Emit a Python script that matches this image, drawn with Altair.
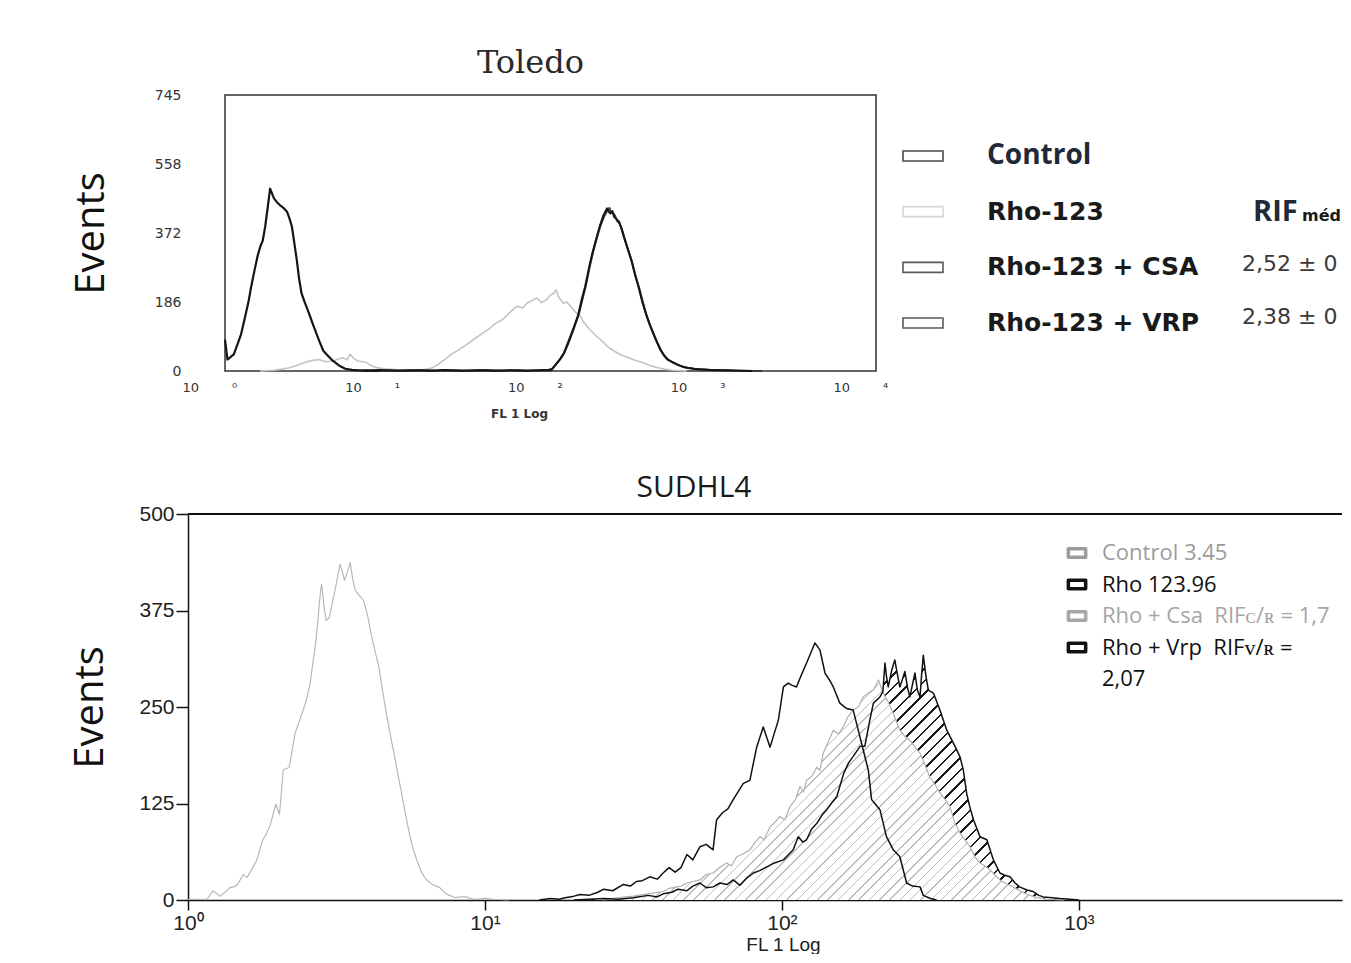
import altair as alt
import pandas as pd

NB = "\u00a0"

# ---------------- Toledo (top panel) : x = log10(FL1), y = events ----------------
tol_title = "Toledo"
tol_y_ticks = [0, 186, 372, 558, 745]
tol_x_ticks = [0, 1, 2, 3, 4]

tol_control = [(0.0, 85), (0.015, 31), (0.035, 38), (0.054, 45), (0.075, 70), (0.098, 98), (0.12, 140),
               (0.143, 184), (0.162, 230), (0.182, 273), (0.2, 310), (0.217, 336), (0.232, 352), (0.247, 390),
               (0.262, 440), (0.277, 492), (0.29, 478), (0.301, 466), (0.32, 455), (0.337, 448), (0.36, 440),
               (0.381, 430), (0.396, 412), (0.411, 390), (0.426, 345), (0.441, 300), (0.455, 250), (0.47, 210),
               (0.49, 185), (0.515, 157), (0.537, 130), (0.56, 103), (0.582, 78), (0.605, 54), (0.635, 40),
               (0.664, 27), (0.7, 15), (0.739, 6), (0.78, 3), (0.813, 2), (0.87, 1), (0.95, 0)]

tol_rho = [(0.217, 0), (0.3, 2), (0.35, 5), (0.396, 9), (0.44, 15), (0.485, 22), (0.53, 28), (0.575, 31),
           (0.62, 25), (0.664, 27), (0.7, 33), (0.724, 36), (0.75, 30), (0.768, 45), (0.79, 35), (0.813, 27),
           (0.85, 25), (0.873, 22), (0.9, 14), (0.932, 9), (0.98, 6), (1.051, 4), (1.12, 3), (1.2, 2),
           (1.24, 5), (1.275, 9), (1.31, 18), (1.349, 31), (1.39, 45), (1.438, 58), (1.48, 70), (1.528, 85),
           (1.57, 98), (1.617, 112), (1.66, 128), (1.706, 139), (1.75, 158), (1.796, 175), (1.83, 170),
           (1.855, 183), (1.885, 190), (1.915, 197), (1.945, 185), (1.974, 192), (2.0, 205), (2.02, 210),
           (2.034, 219), (2.05, 200), (2.079, 183), (2.1, 186), (2.123, 175), (2.15, 160), (2.183, 148),
           (2.21, 128), (2.242, 112), (2.28, 95), (2.317, 81), (2.35, 66), (2.391, 54), (2.43, 44),
           (2.481, 36), (2.52, 29), (2.57, 22), (2.61, 15), (2.659, 9), (2.7, 5), (2.749, 2), (2.8, 1),
           (2.838, 0)]

tol_csa = [(0.85, 1), (0.95, 3), (1.05, 1), (1.15, 2), (1.25, 1), (1.35, 3), (1.45, 1), (1.55, 2), (1.65, 1),
           (1.75, 2), (1.85, 1), (1.945, 3), (2.004, 2), (2.034, 18), (2.056, 30), (2.079, 45), (2.1, 68),
           (2.123, 94), (2.145, 120), (2.168, 148), (2.19, 190), (2.213, 228), (2.235, 275), (2.257, 318),
           (2.28, 355), (2.302, 390), (2.325, 420), (2.347, 439), (2.358, 430), (2.368, 425), (2.38, 432),
           (2.391, 416), (2.405, 410), (2.421, 403), (2.436, 385), (2.451, 362), (2.474, 330), (2.496, 300),
           (2.518, 262), (2.54, 228), (2.562, 190), (2.585, 157), (2.607, 128), (2.63, 103), (2.652, 80),
           (2.674, 58), (2.697, 42), (2.719, 31), (2.75, 24), (2.778, 18), (2.81, 12), (2.838, 9), (2.88, 6),
           (2.927, 4), (2.97, 3), (3.017, 2), (3.1, 2), (3.24, 0)]

tol_vrp = [(0.8, 2), (0.9, 1), (1.0, 2), (1.1, 1), (1.2, 3), (1.3, 1), (1.4, 2), (1.5, 1), (1.6, 3), (1.7, 1),
           (1.8, 2), (1.9, 1), (1.98, 2), (2.01, 6), (2.04, 22), (2.062, 34), (2.085, 50), (2.107, 72),
           (2.13, 98), (2.152, 126), (2.175, 155), (2.197, 195), (2.218, 232), (2.24, 280), (2.262, 322),
           (2.285, 360), (2.307, 392), (2.33, 418), (2.35, 434), (2.362, 440), (2.372, 428), (2.384, 426),
           (2.395, 420), (2.41, 405), (2.425, 398), (2.44, 380), (2.455, 358), (2.478, 326), (2.5, 296),
           (2.522, 258), (2.545, 224), (2.567, 186), (2.59, 150), (2.612, 124), (2.635, 98), (2.657, 76),
           (2.68, 55), (2.702, 40), (2.725, 30), (2.755, 22), (2.785, 16), (2.815, 11), (2.85, 8), (2.9, 5),
           (2.94, 5), (2.99, 3), (3.03, 3), (3.12, 1), (3.3, 0)]

tol_legend_names = ["Control", "Rho-123", "Rho-123 + CSA", "Rho-123 + VRP"]
tol_legend_box = ["#4a4a4a", "#d6d6d6", "#5a5a5a", "#5a5a5a"]
tol_rif_values = ["", "", "2,52 ± 0", "2,38 ± 0"]
tol_rif_shift = [0, 0, -3, -6]
tol_rif_head = "RIF"
tol_rif_sub = "méd"

# ---------------- SUDHL4 (bottom panel) ----------------
sud_title = "SUDHL4"
sud_y_ticks = [0, 125, 250, 375, 500]
sud_x_ticks = [0, 1, 2, 3]

sud_control = [(0.0, 1), (0.064, 1), (0.084, 12), (0.097, 8), (0.109, 5), (0.125, 10), (0.141, 16), (0.155, 17),
               (0.167, 20), (0.186, 33), (0.199, 29), (0.215, 40), (0.231, 51), (0.251, 77), (0.263, 85),
               (0.276, 96), (0.296, 124), (0.308, 111), (0.321, 169), (0.331, 170), (0.341, 172), (0.36, 215),
               (0.379, 236), (0.398, 258), (0.411, 280), (0.418, 300), (0.431, 336), (0.445, 395), (0.45, 409),
               (0.458, 380), (0.465, 362), (0.476, 366), (0.486, 385), (0.495, 401), (0.512, 435), (0.52, 425),
               (0.527, 414), (0.537, 425), (0.546, 437), (0.555, 415), (0.563, 401), (0.578, 394), (0.591, 388),
               (0.604, 370), (0.617, 344), (0.63, 322), (0.643, 301), (0.655, 272), (0.668, 241), (0.681, 215),
               (0.694, 189), (0.707, 162), (0.72, 137), (0.733, 110), (0.746, 85), (0.758, 66), (0.771, 51),
               (0.784, 38), (0.797, 29), (0.81, 24), (0.823, 20), (0.836, 18), (0.848, 16), (0.861, 11),
               (0.874, 7), (0.887, 5), (0.9, 3), (0.92, 4), (0.938, 4), (0.95, 2), (0.964, 1), (1.0, 2),
               (1.03, 1), (1.08, 0)]

sud_rho = [(1.183, 0), (1.22, 2), (1.25, 1), (1.27, 3), (1.3, 5), (1.32, 7), (1.35, 6), (1.38, 10), (1.4, 14),
           (1.43, 12), (1.465, 20), (1.49, 18), (1.51, 24), (1.53, 25), (1.555, 30), (1.58, 27), (1.6, 35),
           (1.62, 42), (1.64, 36), (1.66, 42), (1.68, 59), (1.7, 52), (1.724, 69), (1.745, 72), (1.768, 65),
           (1.78, 104), (1.8, 113), (1.818, 118), (1.836, 130), (1.87, 151), (1.892, 155), (1.915, 198),
           (1.937, 224), (1.96, 198), (1.988, 233), (2.005, 276), (2.021, 281), (2.035, 278), (2.049, 276),
           (2.066, 292), (2.083, 307), (2.097, 320), (2.111, 333), (2.128, 324), (2.145, 294), (2.16, 285),
           (2.173, 276), (2.195, 255), (2.218, 248), (2.24, 246), (2.257, 220), (2.274, 194), (2.291, 168),
           (2.302, 130), (2.315, 124), (2.33, 117), (2.352, 82), (2.375, 65), (2.397, 56), (2.42, 22),
           (2.44, 18), (2.465, 17), (2.476, 6), (2.5, 2), (2.521, 0)]

sud_csa = [(1.4, 0), (1.45, 3), (1.5, 5), (1.55, 8), (1.6, 11), (1.62, 15), (1.66, 18), (1.68, 22), (1.7, 24),
           (1.724, 26), (1.745, 33), (1.769, 35), (1.79, 42), (1.814, 48), (1.83, 44), (1.848, 56), (1.87, 60),
           (1.892, 65), (1.91, 75), (1.926, 82), (1.94, 78), (1.96, 95), (1.975, 100), (1.993, 108),
           (2.01, 104), (2.027, 121), (2.045, 130), (2.061, 147), (2.072, 140), (2.083, 155), (2.1, 160),
           (2.117, 172), (2.128, 168), (2.139, 190), (2.156, 205), (2.173, 220), (2.19, 215), (2.206, 224),
           (2.223, 238), (2.24, 246), (2.257, 250), (2.274, 263), (2.29, 268), (2.308, 272), (2.325, 285),
           (2.341, 268), (2.36, 255), (2.375, 242), (2.397, 220), (2.414, 212), (2.431, 207), (2.448, 198),
           (2.465, 190), (2.482, 175), (2.498, 159), (2.515, 150), (2.532, 139), (2.55, 130), (2.566, 121),
           (2.582, 100), (2.599, 87), (2.616, 78), (2.633, 69), (2.65, 56), (2.667, 48), (2.684, 44),
           (2.701, 39), (2.718, 32), (2.734, 26), (2.755, 21), (2.779, 17), (2.805, 11), (2.835, 6),
           (2.86, 3), (2.891, 1), (2.95, 0)]

sud_vrp = [(1.3, 0), (1.35, 1), (1.4, 2), (1.45, 1), (1.5, 3), (1.55, 6), (1.58, 4), (1.6, 8), (1.63, 10),
           (1.65, 14), (1.68, 12), (1.7, 18), (1.724, 22), (1.745, 16), (1.769, 17), (1.791, 22), (1.815, 20),
           (1.836, 26), (1.859, 19), (1.88, 28), (1.904, 35), (1.925, 38), (1.949, 43), (1.975, 48),
           (2.005, 52), (2.02, 58), (2.038, 65), (2.055, 82), (2.07, 75), (2.083, 78), (2.1, 92), (2.117, 99),
           (2.135, 110), (2.151, 117), (2.168, 126), (2.185, 134), (2.208, 164), (2.225, 178), (2.24, 186),
           (2.263, 199), (2.279, 199), (2.296, 233), (2.308, 255), (2.33, 263), (2.34, 270), (2.347, 307),
           (2.352, 290), (2.358, 276), (2.37, 298), (2.38, 311), (2.39, 290), (2.397, 276), (2.405, 285),
           (2.414, 296), (2.423, 275), (2.431, 263), (2.44, 280), (2.448, 294), (2.456, 272), (2.465, 263),
           (2.47, 290), (2.476, 317), (2.485, 290), (2.493, 272), (2.51, 268), (2.532, 246), (2.555, 220),
           (2.583, 199), (2.6, 185), (2.611, 168), (2.622, 138), (2.633, 120), (2.645, 104), (2.667, 82),
           (2.69, 78), (2.712, 52), (2.734, 35), (2.75, 32), (2.768, 30), (2.785, 22), (2.8, 17),
           (2.825, 13), (2.846, 11), (2.865, 6), (2.88, 4), (2.91, 3), (2.936, 2), (2.97, 1), (3.0, 0)]

sud_legend_text = ["Control 3.45", "Rho 123.96", f"Rho + Csa{NB}{NB}RIFᴄ/ʀ = 1,7",
                   f"Rho + Vrp{NB}{NB}RIFᴠ/ʀ =", "2,07"]
sud_legend_color = ["#9c9c9c", "#111111", "#a6a6a6", "#111111", "#111111"]
sud_legend_symbol = [True, True, True, True, False]


def df_of(pairs):
    return pd.DataFrame(pairs, columns=["x", "y"])


SUP = ("datum.value == 0 ? '⁰' : datum.value == 1 ? '¹' : datum.value == 2 ? '²' : "
       "datum.value == 3 ? '³' : '⁴'")

# ---------------- top chart ----------------
tol_x_axis = alt.Axis(values=tol_x_ticks, labelExpr=f"'10{NB * 8}' + ({SUP})",
                      labelAlign="left", labelOffset=-43, labelFont="DejaVu Sans", labelFontSize=13,
                      labelColor="#333", ticks=False, domain=False, grid=False, labelPadding=10,
                      labelFlush=False, labelOverlap=False, title="FL 1 Log", titleFont="DejaVu Sans",
                      titleFontSize=12, titleFontWeight="bold", titleColor="#333", titlePadding=14,
                      titleX=294)
tol_y_axis = alt.Axis(values=tol_y_ticks, labelFont="DejaVu Sans", labelFontSize=14, labelColor="#333",
                      labelPadding=44, ticks=False, domain=False, grid=False, labelOverlap=False,
                      title="Events", titleFont="Open Sans", titleFontSize=40, titleFontWeight="normal",
                      titleColor="#111", titlePadding=43)
tx = alt.X("x:Q", scale=alt.Scale(domain=[0, 4], nice=False, zero=False), axis=tol_x_axis)
ty = alt.Y("y:Q", scale=alt.Scale(domain=[0, 745], nice=False), axis=tol_y_axis)


def tline(pairs, color, w):
    return alt.Chart(df_of(pairs)).mark_line(color=color, strokeWidth=w, strokeJoin="round").encode(x=tx, y=ty)


top_plot = alt.layer(
    tline(tol_rho, "#c4c4c4", 1.6),
    tline(tol_vrp, "#3a3a3a", 2.0),
    tline(tol_csa, "#151515", 2.0),
    tline(tol_control, "#151515", 2.2),
).properties(
    width=651, height=276,
    title=alt.TitleParams(tol_title, font="DejaVu Serif", fontSize=32, fontWeight="normal",
                          color="#2a2a2a", anchor="middle", offset=8, dx=-20),
    view=alt.ViewBackground(stroke="#333333", strokeWidth=1.5),
)

tleg_df = pd.DataFrame({"name": tol_legend_names, "box": tol_legend_box, "rif": tol_rif_values,
                        "shift": tol_rif_shift, "row": list(range(len(tol_legend_names)))})
ly = alt.Y("row:O", scale=alt.Scale(type="point", range=[61, 228], padding=0), axis=None)
leg_boxes = alt.Chart(tleg_df).mark_point(
    shape="M-1,-0.25L1,-0.25L1,0.25L-1,0.25Z", size=1600, filled=False, strokeWidth=1.6, opacity=1
).encode(x=alt.value(30), y=ly, color=alt.Color("box:N", scale=None))
leg_ctrl = alt.Chart(tleg_df).transform_filter("datum.row == 0").mark_text(
    align="left", baseline="middle", font="Open Sans", fontSize=28, fontWeight="bold", color="#1f2a36", clip=True
).encode(x=alt.value(94), y=ly, text="name:N")
leg_names = alt.Chart(tleg_df).transform_filter("datum.row > 0").mark_text(
    align="left", baseline="middle", font="DejaVu Sans", fontSize=25, fontWeight="bold", color="#1a1a1a", clip=True
).encode(x=alt.value(94), y=ly, text="name:N")
leg_rif = alt.Chart(tleg_df).transform_filter("datum.rif != ''").mark_text(
    align="left", baseline="middle", font="DejaVu Sans", fontSize=22, color="#3a3a3a", clip=True
).encode(x=alt.value(349), y=ly, yOffset=alt.YOffset("shift:Q", scale=None), text="rif:N")
head_df = pd.DataFrame({"row": [1], "head": [tol_rif_head], "sub": [tol_rif_sub]})
leg_head = alt.Chart(head_df).mark_text(
    align="left", baseline="middle", font="Open Sans", fontSize=29, fontWeight="bold", color="#1f2a36", clip=True
).encode(x=alt.value(360), y=ly, text="head:N")
leg_sub = alt.Chart(head_df).mark_text(
    align="left", baseline="middle", font="DejaVu Sans", fontSize=16, fontWeight="bold", color="#1a1a1a",
    dy=4, clip=True
).encode(x=alt.value(409), y=ly, text="sub:N")

legend_panel = alt.layer(leg_boxes, leg_ctrl, leg_names, leg_rif, leg_head, leg_sub).properties(
    width=449, height=276, view=alt.ViewBackground(stroke=None))

# empty spacer that shifts the Toledo frame right of the SUDHL4 frame
spacer = alt.Chart(pd.DataFrame({"s": [0]})).mark_point(opacity=0).encode(
    x=alt.value(0), y=alt.value(0)).properties(width=20, height=276, view=alt.ViewBackground(stroke=None))

top_row = alt.hconcat(spacer, top_plot, legend_panel, spacing=17, bounds="flush")

# ---------------- bottom chart ----------------
sud_x_axis = alt.Axis(values=sud_x_ticks, labelExpr=f"'10' + ({SUP})", labelFont="Liberation Sans",
                      labelFontSize=21, labelColor="#222", tickSize=10, tickColor="#111", tickWidth=1.5,
                      domainColor="#111", domainWidth=1.5, grid=False, labelPadding=2, labelFlush=False,
                      labelOverlap=False, title="FL 1 Log", titleFont="Liberation Sans", titleFontSize=19,
                      titleFontWeight="normal", titleColor="#222", titlePadding=2, titleX=595)
sud_y_axis = alt.Axis(values=sud_y_ticks, labelFont="Liberation Sans", labelFontSize=21, labelColor="#222",
                      tickSize=12, tickColor="#111", tickWidth=1.5, domainColor="#111", domainWidth=1.5,
                      grid=False, labelPadding=2, labelOverlap=False, title="Events", titleFont="Open Sans",
                      titleFontSize=40, titleFontWeight="normal", titleColor="#111", titlePadding=28)
bx = alt.X("x:Q", scale=alt.Scale(domain=[0, 3.886], nice=False, zero=False), axis=sud_x_axis)
by = alt.Y("y:Q", scale=alt.Scale(domain=[0, 500], nice=False), axis=sud_y_axis)


def hatch(n, frac, line_color, bg_color, aspect):
    """Diagonal '/' hatch fill as a striped linear gradient over the mark's bounding box."""
    stops = []
    for i in range(n):
        a = i / n
        b = (i + frac) / n
        e = (i + 1) / n
        stops += [alt.GradientStop(offset=round(a, 5), color=line_color),
                  alt.GradientStop(offset=round(b, 5), color=line_color),
                  alt.GradientStop(offset=round(b, 5), color=bg_color),
                  alt.GradientStop(offset=round(e, 5), color=bg_color)]
    s = (1 + aspect) / (1 + aspect * aspect)
    return alt.Gradient(gradient="linear", stops=stops, x1=0, y1=0, x2=round(s, 4), y2=round(s * aspect, 4))


def bline(pairs, color, w):
    return alt.Chart(df_of(pairs)).mark_line(color=color, strokeWidth=w, strokeJoin="round").encode(x=bx, y=by)


def barea(pairs, fill):
    return alt.Chart(df_of(pairs)).mark_area(color=fill, opacity=1).encode(x=bx, y=by)


curves = alt.layer(
    barea(sud_vrp, hatch(60, 0.2, "#1a1a1a", "#ffffff", 245 / 505)),
    barea(sud_csa, hatch(66, 0.15, "#bdbdbd", "#ffffff", 220 / 460)),
    bline(sud_control, "#b8b8b8", 1.2),
    bline(sud_csa, "#b0b0b0", 1.2),
    bline(sud_vrp, "#111111", 1.5),
    bline(sud_rho, "#111111", 1.5),
)

sleg_df = pd.DataFrame({"row": list(range(len(sud_legend_text))), "text": sud_legend_text,
                        "color": sud_legend_color, "sym": sud_legend_symbol})
sy = alt.Y("row:O", scale=alt.Scale(type="point", range=[39, 165], padding=0), axis=None)
sleg_sym = alt.Chart(sleg_df).transform_filter("datum.sym").mark_point(
    shape="M-1,-0.5L1,-0.5L1,0.5L-1,0.5Z", size=300, filled=False, strokeWidth=3.5, strokeJoin="round", opacity=1
).encode(x=alt.value(889), y=sy, color=alt.Color("color:N", scale=None))
sleg_txt = alt.Chart(sleg_df).mark_text(
    align="left", baseline="middle", font="Open Sans", fontSize=22
).encode(x=alt.value(914), y=sy, text="text:N", color=alt.Color("color:N", scale=None))
top_frame = alt.Chart(sleg_df).mark_rule(color="#111111", strokeWidth=1.5).encode(
    x=alt.value(0), x2=alt.value(1154), y=alt.value(0))
sud_legend = alt.layer(top_frame, sleg_sym, sleg_txt)

bottom = alt.layer(curves, sud_legend).resolve_scale(y="independent").properties(
    width=1154, height=386,
    title=alt.TitleParams(sud_title, font="Open Sans", fontSize=30, fontWeight="normal", color="#1a1a1a",
                          anchor="middle", offset=0, dx=-71),
    view=alt.ViewBackground(stroke=None),
)

chart = alt.vconcat(top_row, bottom, spacing=53).properties(
    padding={"left": 62, "top": 38, "right": 0, "bottom": 0},
    background="white",
).configure_view(stroke=None)

chart.save("out.html", embed_options={"renderer": "svg", "actions": False})
